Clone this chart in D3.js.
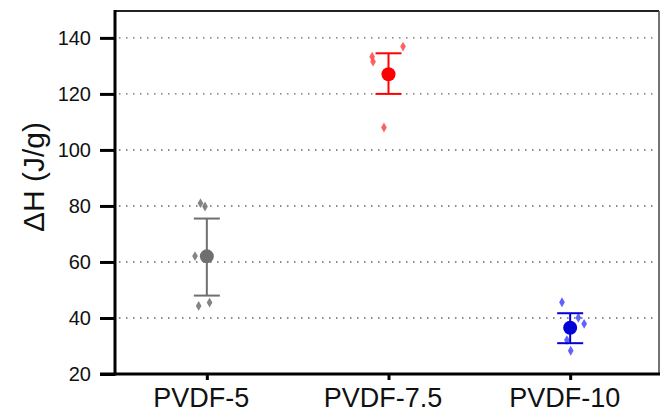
<!DOCTYPE html>
<html>
  <head>
    <meta charset="utf-8" />
    <script src="https://d3js.org/d3.v7.min.js"></script>
    <style>
      body { margin: 0; background: #fff; }
      .grid line { stroke: #666; stroke-width: 1.4; stroke-dasharray: 1.5,5.5; }
      .tick text { font-family: Arial, "Liberation Sans", sans-serif; fill: #111; }
    </style>
  </head>
  <body>
    <div id="chart"></div>
    <script type="text/javascript">

      var w = 661, h = 415;

      // categories and their colours
      var samples = ["PVDF-5", "PVDF-7.5", "PVDF-10"];
      var colors = ["#6f6f6f", "#ff0000", "#0000d8"];
      var pointColors = ["#777777", "#ff5050", "#5050ff"];

      // mean and error bar limits (J/g)
      var means = [62, 127, 36.5];
      var errLow = [48, 120, 31];
      var errHigh = [75.5, 134.5, 41.7];

      // individual measurements, with their small horizontal jitter (fraction of step)
      var points = [
        [81, 79.8, 62.1, 44.3, 45.5],
        [136.9, 133.3, 131.5, 108],
        [45.6, 40.1, 37.9, 32.1, 28.3]
      ];
      var jitter = [
        [-0.035, -0.01, -0.065, -0.045, 0.015],
        [0.08, -0.09, -0.085, -0.025],
        [-0.045, 0.045, 0.077, -0.018, 0.003]
      ];

      var yTicks = [20, 40, 60, 80, 100, 120, 140];
      var gridTicks = [40, 60, 80, 100, 120, 140];

      var mLeft = 115, mRight = 659, mTop = 11, mBottom = 374;

      var svg = d3.select("#chart").append("svg")
        .attr("width", w).attr("height", h);

      var x = d3.scalePoint().domain(samples).range([116, 661]).padding(0.5);
      var y = d3.scaleLinear().domain([20, 149.6]).range([mBottom, mTop]);
      var step = x.step();

      // dotted grid
      svg.append("g").attr("class", "grid")
        .selectAll("line").data(gridTicks).enter().append("line")
        .attr("x1", mLeft + 4).attr("x2", mRight - 2)
        .attr("y1", function(d) { return y(d); })
        .attr("y2", function(d) { return y(d); });

      // frame (top + right thinner)
      svg.append("line").attr("x1", mLeft).attr("x2", mRight)
        .attr("y1", mTop).attr("y2", mTop)
        .attr("stroke", "#222").attr("stroke-width", 2);
      svg.append("line").attr("x1", mRight).attr("x2", mRight)
        .attr("y1", mTop).attr("y2", mBottom)
        .attr("stroke", "#444").attr("stroke-width", 1.5);

      // y axis
      var yAxis = svg.append("g")
        .attr("transform", "translate(" + mLeft + ",0)")
        .call(d3.axisLeft(y).tickValues(yTicks).tickSize(15).tickPadding(9));
      yAxis.select(".domain").remove();
      yAxis.selectAll(".tick line").attr("stroke", "#000").attr("stroke-width", 3);
      yAxis.selectAll(".tick text").style("font-size", "20px");
      svg.append("line").attr("x1", mLeft).attr("x2", mLeft)
        .attr("y1", mTop - 1).attr("y2", mBottom + 1.5)
        .attr("stroke", "#000").attr("stroke-width", 3);

      // x axis
      var xAxis = svg.append("g")
        .attr("transform", "translate(0," + mBottom + ")")
        .call(d3.axisBottom(x).tickSize(6).tickPadding(10));
      xAxis.select(".domain").remove();
      xAxis.selectAll(".tick line").attr("stroke", "#000").attr("stroke-width", 3);
      xAxis.selectAll(".tick text").style("font-size", "27px")
        .attr("dx", "-6px").attr("dy", "0.62em");
      svg.append("line").attr("x1", mLeft - 15).attr("x2", mRight + 1)
        .attr("y1", mBottom).attr("y2", mBottom)
        .attr("stroke", "#000").attr("stroke-width", 3);

      // y label
      svg.append("text")
        .attr("transform", "translate(44," + 177 + ") rotate(-90)")
        .attr("text-anchor", "middle")
        .style("font-family", "Arial, 'Liberation Sans', sans-serif")
        .style("font-size", "30px").attr("fill", "#111")
        .text("\u0394H (J/g)");

      // data groups
      svg.selectAll("g.sample").data(samples).enter().append("g")
        .attr("class", "sample")
        .each(function(s, i) {
          var g = d3.select(this), cx = x(s);
          // raw points as small diamonds
          g.selectAll("path.pt").data(points[i]).enter().append("path")
            .attr("class", "pt")
            .attr("d", d3.symbol().type(d3.symbolDiamond).size(28))
            .attr("fill", pointColors[i]).attr("opacity", 0.9)
            .attr("transform", function(d, j) {
              return "translate(" + (cx + jitter[i][j] * step) + "," + y(d) + ")";
            });
          // error bar
          g.append("line").attr("x1", cx).attr("x2", cx)
            .attr("y1", y(errLow[i])).attr("y2", y(errHigh[i]))
            .attr("stroke", colors[i]).attr("stroke-width", 2);
          [errLow[i], errHigh[i]].forEach(function(v) {
            g.append("line").attr("x1", cx - 13).attr("x2", cx + 13)
              .attr("y1", y(v)).attr("y2", y(v))
              .attr("stroke", colors[i]).attr("stroke-width", 2);
          });
          // mean marker
          g.append("circle").attr("cx", cx).attr("cy", y(means[i])).attr("r", 7)
            .attr("fill", colors[i]);
        });

    </script>
  </body>
</html>
